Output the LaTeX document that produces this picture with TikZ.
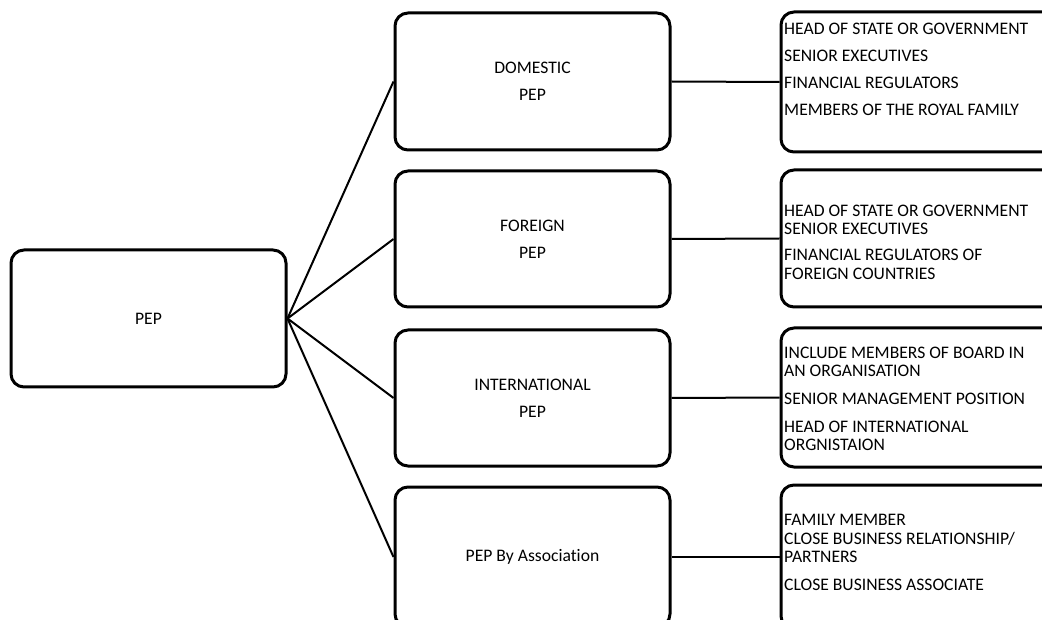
\documentclass[tikz,border=0pt]{standalone}
\usepackage{fontspec}
\setmainfont[Ligatures=NoCommon]{Carlito}
\begin{document}
\begin{tikzpicture}[x=1pt,y=-1pt,
  box/.style={draw=black, line width=3pt, rounded corners=13pt, fill=white, inner sep=0pt},
  midbox/.style={box, minimum width=275pt, font=\fontsize{17.6}{18.3}\selectfont, align=center},
  rbox/.style={box, minimum width=290pt},
  rtext/.style={anchor=north west, inner sep=0pt, align=left, font=\fontsize{17.6}{18.3}\selectfont},
  conn/.style={draw=black, line width=2pt}]
\useasboundingbox (0,0) rectangle (1042,620);
\clip (0,0) rectangle (1042,620);
\fill[white] (0,0) rectangle (1042,620);
% root
\node[midbox, minimum height=137pt] (pep) at (148.5,318.5) {PEP};
% middle
\node[midbox, minimum height=137pt] (dom) at (532.5,81.5) {DOMESTIC\\[9pt]PEP};
\node[midbox, minimum height=136pt] (for) at (532.5,239) {FOREIGN\\[9pt]PEP};
\node[midbox, minimum height=136pt] (int) at (532.5,398) {INTERNATIONAL\\[9pt]PEP};
\node[midbox, minimum height=140pt] (ass) at (532.5,557) {PEP By Association};
% right
\node[rbox, minimum height=140pt] (domr) at (926,82) {};
\node[rbox, minimum height=137pt] (forr) at (926,238.5) {};
\node[rbox, minimum height=139pt] (intr) at (926,397.5) {};
\node[rbox, minimum height=144pt] (assr) at (926,557) {};
% connectors
\draw[conn] (pep.east) -- (dom.west);
\draw[conn] (pep.east) -- (for.west);
\draw[conn] (pep.east) -- (int.west);
\draw[conn] (pep.east) -- (ass.west);
\draw[conn] (dom.east) -- (domr.west);
\draw[conn] (for.east) -- (forr.west);
\draw[conn] (int.east) -- (intr.west);
\draw[conn] (ass.east) -- (assr.west);
% texts
\node[rtext] (t1) at (784,22.5) {HEAD OF STATE OR GOVERNMENT\\[8.7pt]SENIOR EXECUTIVES\\[8.7pt]FINANCIAL REGULATORS\\[8.7pt]MEMBERS OF THE ROYAL FAMILY};
\node[rtext] (t2) at (784,204.5) {HEAD OF STATE OR GOVERNMENT\\SENIOR EXECUTIVES\\[8pt]FINANCIAL REGULATORS OF\\FOREIGN COUNTRIES};
\node[rtext] (t3) at (784,346.5) {INCLUDE MEMBERS OF BOARD IN\\AN ORGANISATION\\[9.5pt]SENIOR MANAGEMENT POSITION\\[9.5pt]HEAD OF INTERNATIONAL\\ORGNISTAION};
\node[rtext] (t4) at (784,514.5) {FAMILY MEMBER\\CLOSE BUSINESS RELATIONSHIP/\\PARTNERS\\[9.5pt]CLOSE BUSINESS ASSOCIATE};
\end{tikzpicture}
\end{document}
